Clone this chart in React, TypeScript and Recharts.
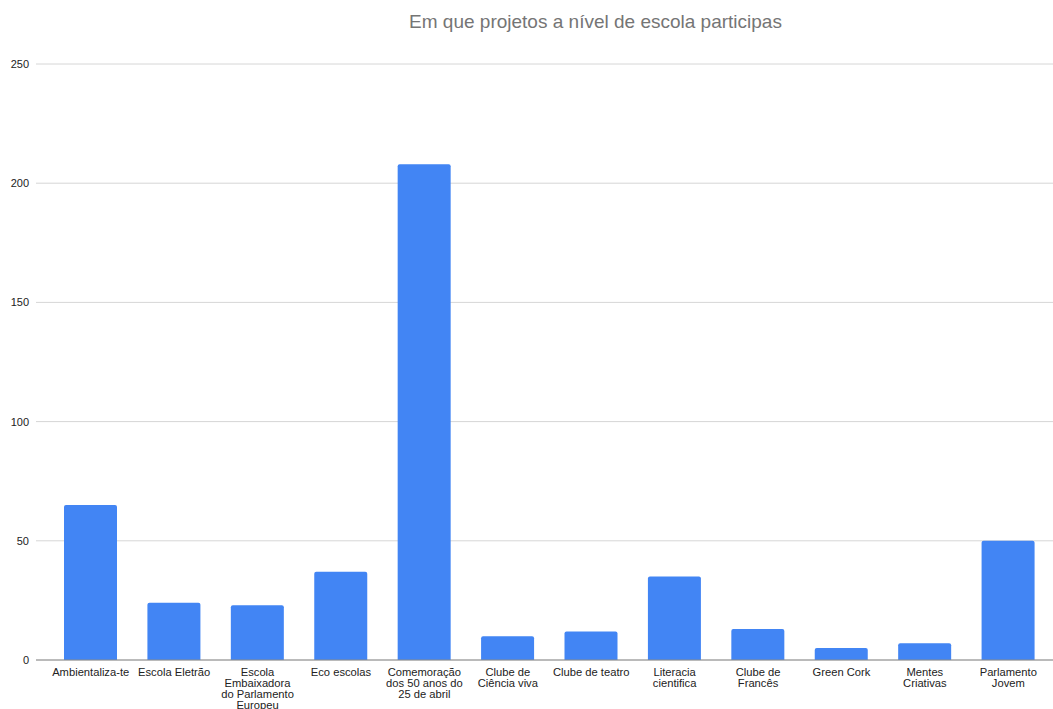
import { BarChart, Bar, XAxis, YAxis, CartesianGrid } from 'recharts'

const projects = [
  'Ambientaliza-te',
  'Escola Eletrão',
  'Escola Embaixadora do Parlamento Europeu',
  'Eco escolas',
  'Comemoração dos 50 anos do 25 de abril',
  'Clube de Ciência viva',
  'Clube de teatro',
  'Literacia cientifica',
  'Clube de Francês',
  'Green Cork',
  'Mentes Criativas',
  'Parlamento Jovem',
]
const counts = [65, 24, 23, 37, 208, 10, 12, 35, 13, 5, 7, 50]
const yTicks = [0, 50, 100, 150, 200, 250]

const data = projects.map((name, i) => ({ name, value: counts[i] }))

const FONT = "'Liberation Sans', Arial, sans-serif"

// simple word wrap using canvas measurement, so lines break like the original
let ctx: CanvasRenderingContext2D | null = null
const measure = (s: string) => {
  if (!ctx) {
    ctx = document.createElement('canvas').getContext('2d')
    if (ctx) ctx.font = `11px ${FONT}`
  }
  return ctx ? ctx.measureText(s).width : s.length * 6
}

const wrap = (text: string, maxWidth: number) => {
  const words = text.split(' ')
  const lines: string[] = []
  let cur = ''
  words.forEach(w => {
    const next = cur ? cur + ' ' + w : w
    if (cur && measure(next) > maxWidth) {
      lines.push(cur)
      cur = w
    } else {
      cur = next
    }
  })
  if (cur) lines.push(cur)
  return lines
}

const CategoryTick = ({ x, y, payload }: any) => {
  const lines = wrap(payload.value, 78)
  return (
    <text x={x} y={y} textAnchor="middle" fontSize={11.2} fill="#222" fontFamily={FONT}>
      {lines.map((l, i) => (
        <tspan key={i} x={x} y={y + 16 + i * 11}>{l}</tspan>
      ))}
    </text>
  )
}

export default function App() {
  return (
    <div style={{ position: 'absolute', top: 0, left: 0, width: 1053, height: 709, background: '#fff', fontFamily: FONT }}>
      <div
        style={{
          position: 'absolute',
          top: 11,
          left: 595.5,
          transform: 'translateX(-50%)',
          whiteSpace: 'nowrap',
          fontSize: 19,
          color: '#757575',
        }}
      >
        Em que projetos a nível de escola participas
      </div>
      <BarChart
        width={1053}
        height={709}
        data={data}
        margin={{ top: 64, right: 0, bottom: 0, left: 0 }}
      >
        <CartesianGrid vertical={false} stroke="#d6d6d6" />
        <XAxis
          dataKey="name"
          interval={0}
          height={49}
          padding={{ left: 13, right: 3 }}
          tickLine={false}
          tickSize={0}
          tickMargin={0}
          axisLine={{ stroke: '#8a8a8a' }}
          tick={<CategoryTick />}
        />
        <YAxis
          width={36}
          domain={[0, 250]}
          ticks={yTicks}
          tickLine={false}
          axisLine={false}
          tickSize={0}
          tickMargin={7}
          tick={{ fontSize: 11, fill: '#222', fontFamily: FONT }}
        />
        <Bar dataKey="value" fill="#4285f4" barSize={53} radius={[2, 2, 0, 0]} isAnimationActive={false} />
      </BarChart>
    </div>
  )
}
